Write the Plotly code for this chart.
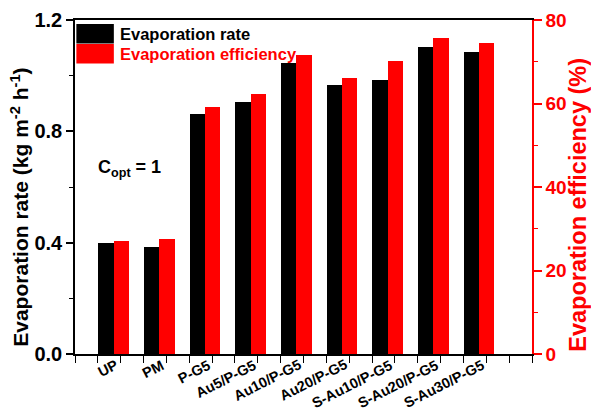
import plotly.graph_objects as go

# Samples and measured values
samples = ["UP", "PM", "P-G5", "Au5/P-G5", "Au10/P-G5", "Au20/P-G5",
           "S-Au10/P-G5", "S-Au20/P-G5", "S-Au30/P-G5"]
evap_rate = [0.398, 0.383, 0.862, 0.907, 1.044, 0.965, 0.986, 1.102, 1.084]   # kg m-2 h-1
evap_eff = [27.0, 27.5, 59.2, 62.2, 71.5, 66.2, 70.3, 75.8, 74.4]            # %
rate_ticks = [0.0, 0.4, 0.8, 1.2]
eff_ticks = [0, 20, 40, 60, 80]

FONT = "Liberation Sans, Arial, sans-serif"
RED = "#FF0000"

pos = list(range(1, len(samples) + 1))
bar_w = 0.335
rate_x = [p - 0.325 for p in pos]
eff_x = [p + 0.01 for p in pos]

fig = go.Figure()
fig.add_trace(go.Bar(x=rate_x, y=evap_rate, width=bar_w, name="Evaporation rate",
                     marker=dict(color="black", line=dict(width=0)), yaxis="y"))
fig.add_trace(go.Bar(x=eff_x, y=evap_eff, width=bar_w, name="Evaporation efficiency",
                     marker=dict(color=RED, line=dict(width=0)), yaxis="y2"))

fig.update_layout(
    width=591, height=412,
    margin=dict(l=75, r=59, t=20, b=58),
    paper_bgcolor="white", plot_bgcolor="white",
    barmode="overlay", showlegend=False, bargap=0,
    font=dict(family=FONT, color="black"),
    xaxis=dict(
        range=[0, 10], tickvals=pos, showticklabels=False,
        ticks="outside", ticklen=7, tickwidth=1.2, tickcolor="black",
        minor=dict(dtick=0.5, tick0=0, ticks="outside", ticklen=7, tickcolor="black", tickwidth=1.2),
        showline=True, linewidth=1.5, linecolor="black", mirror=True,
        showgrid=False, zeroline=False, automargin=False,
    ),
    yaxis=dict(
        range=[0, 1.2], tickvals=rate_ticks, tickformat=".1f",
        tickfont=dict(size=20, weight=700, family=FONT),
        ticks="outside", ticklen=7, tickwidth=1.5, tickcolor="black",
        minor=dict(dtick=0.2, tick0=0, ticks="outside", ticklen=4, tickcolor="black", tickwidth=1.2),
        showline=True, linewidth=1.5, linecolor="black",
        showgrid=False, zeroline=False, automargin=False,
    ),
    yaxis2=dict(
        overlaying="y", side="right", range=[0, 80], tickvals=eff_ticks,
        tickfont=dict(size=19, weight=700, family=FONT, color=RED),
        ticks="outside", ticklen=8, tickwidth=1.5, tickcolor=RED,
        minor=dict(dtick=10, tick0=0, ticks="outside", ticklen=4, tickcolor=RED, tickwidth=1.2),
        showline=True, linewidth=1.5, linecolor=RED,
        showgrid=False, zeroline=False, automargin=False,
    ),
)

# Rotated category labels, ending at each category tick
for p, name in zip(pos, samples):
    fig.add_annotation(x=p, y=0, xref="x", yref="y", xanchor="right", yanchor="top",
                       xshift=3, yshift=0, showarrow=False, textangle=-27, text=name,
                       font=dict(size=14.5, weight=700, family=FONT, color="black"))

# Axis titles
fig.add_annotation(xref="paper", yref="paper", x=-0.121, y=0.44,
                   xanchor="center", yanchor="middle", showarrow=False, textangle=-90,
                   text="Evaporation rate (kg m<sup>-2</sup> h<sup>-1</sup>)",
                   font=dict(size=21, weight=700, family=FONT, color="black"))
fig.add_annotation(xref="paper", yref="paper", x=1.1, y=0.446,
                   xanchor="center", yanchor="middle", showarrow=False, textangle=-90,
                   text="Evaporation efficiency (%)",
                   font=dict(size=23.5, weight=700, family=FONT, color=RED))

# Legend swatches and labels
legend_items = [("Evaporation rate", "black", 0.988, 0.930),
                ("Evaporation efficiency", RED, 0.928, 0.870)]
for label, col, y1, y0 in legend_items:
    fig.add_shape(type="rect", xref="paper", yref="paper",
                  x0=0.003, x1=0.085, y0=y0, y1=y1,
                  fillcolor=col, line=dict(width=0), layer="above")
    fig.add_annotation(xref="paper", yref="paper", x=0.093, y=(y0 + y1) / 2,
                       xanchor="left", yanchor="middle", showarrow=False,
                       text=label, font=dict(size=16.5, weight=700, family=FONT, color=col))

fig.add_annotation(xref="paper", yref="paper", x=0.047, y=0.555,
                   xanchor="left", yanchor="middle", showarrow=False,
                   text="C<sub>opt</sub> = 1",
                   font=dict(size=18, weight=700, family=FONT, color="black"))

fig.write_html("out.html")
